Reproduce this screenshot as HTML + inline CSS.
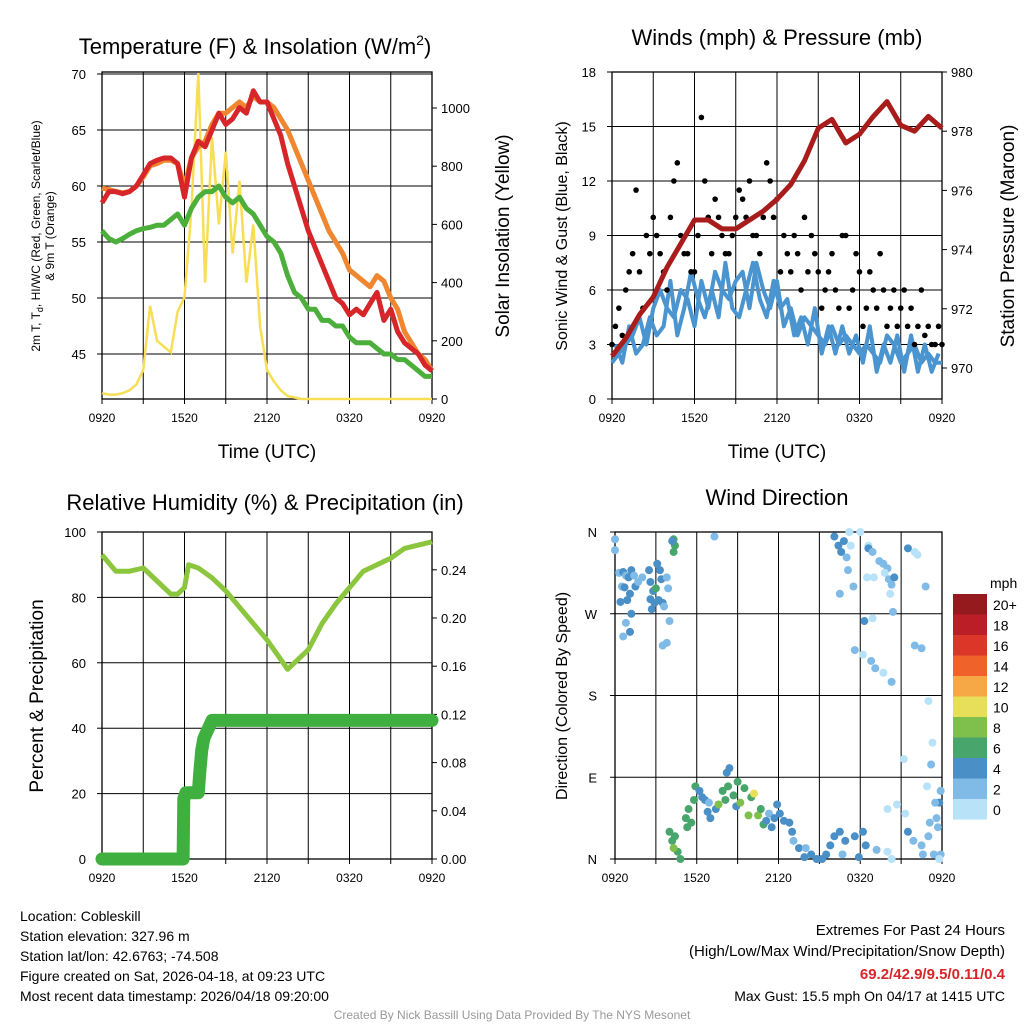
<!DOCTYPE html>
<html><head><meta charset="utf-8">
<style>
body{margin:0;background:#fff;}
svg{display:block;font-family:"Liberation Sans",sans-serif;}
</style></head>
<body>
<svg id="fig" width="1024" height="1024" viewBox="0 0 1024 1024">
<rect x="0" y="0" width="1024" height="1024" fill="#fff"/>
</svg>
<script>
// ---------- DATA ----------
const hours = [0,0.5,1,1.5,2,2.5,3,3.5,4,4.5,5,5.5,6,6.5,7,7.5,8,8.5,9,9.5,10,10.5,11,11.5,12,12.5,13,13.5,14,14.5,15,15.5,16,16.5,17,17.5,18,18.5,19,19.5,20,20.5,21,21.5,22,22.5,23,23.5,24];
const xTickLabels = ["0920","1520","2120","0320","0920"];
const tempRed = [58.5,59.5,59.5,59.3,59.5,60,61,62,62.3,62.5,62.5,62,59,62.5,64,63.5,65,66.5,65.5,66,67,66.5,68.5,67.5,67.5,66,64.5,62,60,58,56,54.5,53,51.5,50,49.5,48.5,49,48.5,49.5,50.5,48,49,47,46,45.5,45,44,43.5];
const tempOrange = [59.8,59.7,59.5,59.4,59.5,60,60.8,61.8,62,62.3,62.3,62,60,62.5,63.5,64,65.5,66.5,66.5,67,67.5,67,68,67.5,67.5,67,66,65,63.5,62,60.5,59,57.5,56,55,54,52.5,52,51.5,51,52,51.5,50,49,47,46,45,44.5,43.5];
const dewGreen = [56,55.3,55,55.3,55.7,56,56.2,56.3,56.5,56.5,57,57.5,56.5,58,59,59.5,59.5,60,59,58.5,59,58,57.5,56.5,55.5,55,54,52,50.5,50,49,49,48,48,47.5,47.5,46.5,46,46,46,45.5,45,45,44.5,44.5,44,43.5,43,43];
const solar = [20,15,15,20,30,50,100,320,200,180,160,300,350,650,1120,400,900,600,850,500,750,400,600,250,100,60,30,10,5,0,0,0,0,0,0,0,0,0,0,0,0,0,0,0,0,0,0,0,0];
const tempTicks = [45,50,55,60,65,70];
const solarTicks = [0,200,400,600,800,1000];

const windSpeed = [2,2.5,3,3.5,4.5,3,5,6,5,4.5,6,5.5,4,6.5,5,7,6,5.5,6.5,7,5,7.5,6,5,6.5,4,5,3.5,4.5,4,3.5,3,4,3,3.5,3,2.5,3,2.5,2,3.5,3,2,2.5,3,2,2.5,2,2];
const windSpeedB = [3,2,4,2.5,3,4.5,3.5,4,6.5,3.5,5,7,5.5,4.5,6,4.5,7.5,5,4.5,6,7.5,5.5,4.5,6.5,5,5.5,3.5,4.5,3,5,2.5,4,2.5,4,2.5,3.5,2,4,1.5,3,2,3.5,1.5,3.5,1.5,3,1.5,2.5];
const gustA = [3,5,6,8,7,9,10,8,6,12,9,8,7,15.5,10,11,9,8,10,11,12,9,10,12,11,9,7,8,10,9,7,6,8,5,9,6,7,5,6,8,4,6,5,4,3,6,4,3,3];
const gustB = [4,3.5,7,11.5,5,8,9,7,10,13,8,7,9,12,8,10,8,9,11.5,10,9,8,13,10,7,8,9,6,7,8,5,7,6,9,5,8,4,7,5,6,5,4,6,5,4,3.5,3,4];
const pressHours = [0,1,2,3,4,5,6,7,8,9,10,11,12,13,14,15,16,17,18,19,20,21,22,23,24];
const pressure = [970.4,971,971.8,972.4,973.4,974.2,975,975,974.7,974.7,975,975.3,975.7,976.2,977,978.1,978.4,977.6,977.9,978.5,979,978.2,978,978.5,978.1];
const windTicks = [0,3,6,9,12,15,18];
const pressTicks = [970,972,974,976,978,980];

const rhHours = [0,1,2,3,4,5,5.5,6,6.3,7,8,9,10,11,12,13,13.5,14,15,16,17,18,19,20,21,22,23,24];
const rh = [93,88,88,89,85,81,81,83,90,89,86,82,77,72,67,61,58,60,64,72,78,83,88,90,92,95,96,97];
const precipHours = [0,5.9,5.95,6.1,7.0,7.1,7.25,7.4,7.6,8.0,24];
const precip = [0,0,0.05,0.055,0.055,0.07,0.09,0.10,0.105,0.115,0.115];
const rhTicks = [0,20,40,60,80,100];
const precipTicks = [0,0.04,0.08,0.12,0.16,0.20,0.24];

const dirPts = [[0.0,352,2],[0.0,340,2],[0.3,315,2],[0.6,316,3],[0.8,312,2],[1.0,310,3],[1.2,318,4],[1.4,312,2],[1.5,300,3],[1.7,305,2],[0.5,300,2],[0.7,299,3],[0.9,285,4],[1.1,292,3],[0.8,260,2],[1.1,250,4],[1.2,270,3],[0.4,283,3],[0.6,245,2],[2.0,310,2],[2.5,318,3],[2.6,305,4],[2.8,295,4],[2.6,286,4],[2.9,282,4],[2.7,275,4],[3.0,298,6],[3.2,285,3],[3.5,282,4],[3.1,325,3],[3.3,318,4],[3.4,308,3],[3.8,310,2],[3.9,298,2],[3.6,278,2],[4.0,262,2],[3.5,235,2],[3.8,238,2],[4.3,352,6],[4.4,345,6],[4.3,338,6],[4.2,350,4],[7.3,355,2],
[4.0,30,5],[4.2,20,6],[4.4,25,6],[4.6,8,6],[4.8,0,6],[4.3,12,8],[5.2,45,6],[5.3,35,6],[5.4,55,6],[5.6,40,6],[5.8,65,6],[5.9,80,6],[6.2,75,4],[6.4,68,4],[6.6,65,4],[6.8,52,4],[7.0,45,4],[6.9,62,2],[7.4,55,4],[7.6,60,7],[7.9,75,6],[8.1,65,6],[8.3,80,6],[8.2,95,4],[8.4,100,4],[8.7,70,6],[8.9,58,4],[9.0,85,6],[9.2,62,7],[9.5,78,6],[9.8,48,7],[10.0,68,6],[10.2,72,9],[10.5,48,7],[10.7,55,6],[10.9,38,6],[11.1,42,4],[11.3,50,2],[11.5,35,4],[11.7,45,4],[11.9,60,4],[12.1,50,4],[12.4,42,4],[12.8,40,4],[13.0,30,4],[13.1,20,2],[13.5,12,4],[13.9,2,4],[14.0,12,2],[14.4,5,4],[14.8,0,4],[15.2,0,4],[15.5,5,4],[15.8,15,4],[16.1,25,4],[16.5,30,4],
[16.1,355,4],[16.4,345,4],[16.6,338,4],[16.8,350,4],[17.0,332,2],[17.2,360,0],[17.3,345,0],[17.1,318,2],[16.5,292,2],[17.5,300,2],[18.0,360,0],[18.6,345,0],[18.6,342,4],[18.9,338,2],[19.4,328,2],[19.7,325,2],[20.0,320,2],[18.5,310,0],[19.0,310,0],[19.8,315,0],[20.1,308,2],[20.3,302,2],[20.5,310,4],[21.5,342,4],[22.0,338,0],[22.2,335,0],[22.8,300,2],[20.2,292,0],[20.4,272,2],[18.9,265,0],[18.3,262,4],[17.6,230,2],[18.2,225,0],[18.8,218,2],[19.1,210,2],[19.7,205,0],[20.3,195,2],[22.0,235,2],[22.5,232,2],[23.0,174,0],[23.3,128,0],[21.2,110,0],[23.2,104,2],[22.9,80,0],[23.8,62,4],[23.9,75,2],[23.5,62,2],[23.6,45,2],[23.1,40,2],[23.7,35,2],[23.0,25,2],[22.5,15,2],[21.5,30,4],[21.9,20,2],[22.6,5,2],[23.4,5,2],[21.3,50,0],[20.0,55,0],[20.7,60,0],[23.9,5,2],[23.8,0,0],[19.2,10,2],[18.4,15,4],[17.9,2,4],[18.2,30,4],[17.6,25,4],[16.9,20,4],[16.7,5,2],[20.3,0,0],[20.0,8,0]];
const dirTickLabels = ["N","E","S","W","N"];
const cbarLabels = ["20+","18","16","14","12","10","8","6","4","2","0"];
const cbarColors = ["#951a1d","#bb1e26","#dc3629","#ef6229","#f6a846","#e7df59","#7fc04c","#48a56b","#4a8fc6","#7fbbe6","#b8e2f8"];

// ---------- HELPERS ----------
const NS="http://www.w3.org/2000/svg";
const svg=document.getElementById('fig');
function mk(tag,attrs,parent){const e=document.createElementNS(NS,tag);for(const k in attrs)e.setAttribute(k,attrs[k]);(parent||svg).appendChild(e);return e;}
function txt(s,x,y,size,anchor,parent,extra){const t=mk('text',Object.assign({x:x,y:y,'font-size':size,'text-anchor':anchor||'middle',fill:'#000'},extra||{}),parent);t.textContent=s;return t;}
function grp(name){const g=mk('g',{});return g;}
function pts(xs,ys,fx,fy){return xs.map((h,i)=>fx(h).toFixed(1)+','+fy(ys[i]).toFixed(1)).join(' ');}

function frame(g,x0,y0,x1,y1,fx,hGrid){
  for(let h=3;h<24;h+=3){const x=fx(h);mk('line',{x1:x,y1:y0,x2:x,y2:y1,stroke:'#000','stroke-width':1},g);}
  hGrid.forEach(y=>mk('line',{x1:x0,y1:y,x2:x1,y2:y,stroke:'#000','stroke-width':1},g));
  mk('rect',{x:x0,y:y0,width:x1-x0,height:y1-y0,fill:'none',stroke:'#000','stroke-width':1.3},g);
  for(let h=0;h<=24;h+=3){const x=fx(h);mk('line',{x1:x,y1:y1,x2:x,y2:y1+5,stroke:'#000'},g);}
  xTickLabels.forEach((l,i)=>txt(l,fx(i*6),y1+23,12,'middle',g));
}

// ---------- PANEL 1 ----------
(function(){
  const g=grp('temperature-panel');
  const fx=h=>102+h*330/24, fy=t=>354-(t-45)*11.2, fs=w=>399-w*0.291;
  frame(g,102,72,432,399,fx,tempTicks.map(fy));
  tempTicks.forEach(t=>{mk('line',{x1:97,y1:fy(t),x2:102,y2:fy(t),stroke:'#000'},g);txt(String(t),86,fy(t)+5,13,'end',g);});
  solarTicks.forEach(w=>{mk('line',{x1:432,y1:fs(w),x2:437,y2:fs(w),stroke:'#000'},g);txt(String(w),441,fs(w)+5,13,'start',g);});
  const ys=mk('polyline',{points:pts(hours,solar,fx,fs),fill:'none',stroke:'#f7de55','stroke-width':2.5},g);
  
  const go=mk('polyline',{points:pts(hours,tempOrange,fx,fy),fill:'none',stroke:'#f0862f','stroke-width':5,'stroke-linejoin':'round'},g);
  
  const gg=mk('polyline',{points:pts(hours,dewGreen,fx,fy),fill:'none',stroke:'#4caf3c','stroke-width':5,'stroke-linejoin':'round'},g);
  
  const gr=mk('polyline',{points:pts(hours,tempRed,fx,fy),fill:'none',stroke:'#d7262a','stroke-width':5,'stroke-linejoin':'round'},g);
  
  const t=txt('Temperature (F) & Insolation (W/m',255,54,22,'middle',g);
  const ts=mk('tspan',{'font-size':14,dy:-9},t);ts.textContent='2';const ts2=mk('tspan',{dy:9},t);ts2.textContent=')';
  const xl=txt('Time (UTC)',267,458,19,'middle',g);
  const yl=txt('2m T, T',0,0,12,'middle',g,{transform:'translate(40,236) rotate(-90)'});
  const sub=mk('tspan',{'font-size':9,dy:3},yl);sub.textContent='d';const r=mk('tspan',{dy:-3},yl);r.textContent=', HI/WC (Red, Green, Scarlet/Blue)';
  
  txt('& 9m T (Orange)',0,0,12,'middle',g,{transform:'translate(54,236) rotate(-90)'});
  const y2=txt('Solar Insolation (Yellow)',0,0,19,'middle',g,{transform:'translate(509,236) rotate(-90)'});
  
})();

// ---------- PANEL 2 ----------
(function(){
  const g=grp('winds-panel');
  const fx=h=>612+h*330/24, fy=v=>399-v*327/18, fp=p=>368-(p-970)*29.6;
  frame(g,612,72,942,399,fx,windTicks.slice(1,6).map(fy));
  windTicks.forEach(v=>{mk('line',{x1:607,y1:fy(v),x2:612,y2:fy(v),stroke:'#000'},g);txt(String(v),596,fy(v)+5,13,'end',g);});
  pressTicks.forEach(p=>{mk('line',{x1:942,y1:fp(p),x2:947,y2:fp(p),stroke:'#000'},g);txt(String(p),951,fp(p)+5,13,'start',g);});
  const wl=mk('polyline',{points:pts(hours,windSpeed,fx,fy),fill:'none',stroke:'#4a94d0','stroke-width':4,'stroke-linejoin':'round'},g);
  
  const hoursB=hours.slice(0,48).map(h=>h+0.25);
  const wl2=mk('polyline',{points:pts(hoursB,windSpeedB,fx,fy),fill:'none',stroke:'#4a94d0','stroke-width':4,'stroke-linejoin':'round'},g);
  
  gustA.forEach((v,i)=>{const c=mk('circle',{cx:fx(hours[i]),cy:fy(v),r:2.8,fill:'#000'},g);});
  gustB.forEach((v,i)=>{const c=mk('circle',{cx:fx(hours[i]+0.25),cy:fy(v),r:2.8,fill:'#000'},g);});
  const pl=mk('polyline',{points:pts(pressHours,pressure,fx,fp),fill:'none',stroke:'#a81c1c','stroke-width':5,'stroke-linejoin':'round'},g);
  
  const t=txt('Winds (mph) & Pressure (mb)',777,45,22,'middle',g);
  txt('Time (UTC)',777,458,19,'middle',g);
  txt('Sonic Wind & Gust (Blue, Black)',0,0,16,'middle',g,{transform:'translate(567,236) rotate(-90)'});
  txt('Station Pressure (Maroon)',0,0,19,'middle',g,{transform:'translate(1014,236) rotate(-90)'});
})();

// ---------- PANEL 3 ----------
(function(){
  const g=grp('humidity-panel');
  const fx=h=>102+h*330/24, fy=v=>859-v*3.27, fp=p=>859-p*1205;
  frame(g,102,532,432,859,fx,[20,40,60,80].map(fy));
  rhTicks.forEach(v=>{mk('line',{x1:97,y1:fy(v),x2:102,y2:fy(v),stroke:'#000'},g);txt(String(v),86,fy(v)+5,13,'end',g);});
  precipTicks.forEach(p=>{mk('line',{x1:432,y1:fp(p),x2:437,y2:fp(p),stroke:'#000'},g);txt(p.toFixed(2),441,fp(p)+5,13,'start',g);});
  const rl=mk('polyline',{points:pts(rhHours,rh,fx,fy),fill:'none',stroke:'#8cc63f','stroke-width':5,'stroke-linejoin':'round'},g);
  
  const pl=mk('polyline',{points:pts(precipHours,precip,fx,fp),fill:'none',stroke:'#3fb03f','stroke-width':13,'stroke-linejoin':'round','stroke-linecap':'round'},g);
  
  const t=txt('Relative Humidity (%) & Precipitation (in)',265,510,22,'middle',g);
  txt('Percent & Precipitation',0,0,19,'middle',g,{transform:'translate(43,696) rotate(-90)'});
})();

// ---------- PANEL 4 ----------
(function(){
  const g=grp('wind-direction-panel');
  const fx=h=>615+h*327/24, fy=d=>859-d*327/360;
  frame(g,615,532,942,859,fx,[90,180,270].map(fy));
  dirTickLabels.forEach((l,i)=>{const y=fy(i*90);mk('line',{x1:610,y1:y,x2:615,y2:y,stroke:'#000'},g);txt(l,597,y+5,13,'end',g);});
  dirPts.forEach(p=>{const bin=Math.min(10,Math.round(p[2]/2));const c=mk('circle',{cx:fx(p[0]),cy:fy(p[1]),r:4,fill:cbarColors[10-bin]},g);
    });
  const t=txt('Wind Direction',777,505,22,'middle',g);
  txt('Direction (Colored By Speed)',0,0,16,'middle',g,{transform:'translate(567,696) rotate(-90)'});
  const cb=grp('colorbar');
  txt('mph',990,588,14,'start',cb);
  cbarColors.forEach((c,i)=>{mk('rect',{x:953,y:594+i*20.5,width:34,height:20.6,fill:c},cb);txt(cbarLabels[i],993,610+i*20.5,14,'start',cb);});
})();

// ---------- FOOTER ----------
(function(){
  const g=grp('station-info');
  ["Location: Cobleskill","Station elevation: 327.96 m","Station lat/lon: 42.6763; -74.508","Figure created on Sat, 2026-04-18, at 09:23 UTC","Most recent data timestamp: 2026/04/18 09:20:00"].forEach((s,i)=>txt(s,20,921+i*20,14,'start',g));
  const e=grp('extremes-info');
  txt('Extremes For Past 24 Hours',1005,935,15,'end',e);
  txt('(High/Low/Max Wind/Precipitation/Snow Depth)',1005,956,15,'end',e);
  txt('69.2/42.9/9.5/0.11/0.4',1005,979,15,'end',e,{fill:'#d7262a','font-weight':'bold'});
  txt('Max Gust: 15.5 mph On 04/17 at 1415 UTC',1005,1001,14,'end',e);
  const c=txt('Created By Nick Bassill Using Data Provided By The NYS Mesonet',512,1019,12,'middle',svg,{fill:'#999'});
  
})();
</script>
</body></html>
